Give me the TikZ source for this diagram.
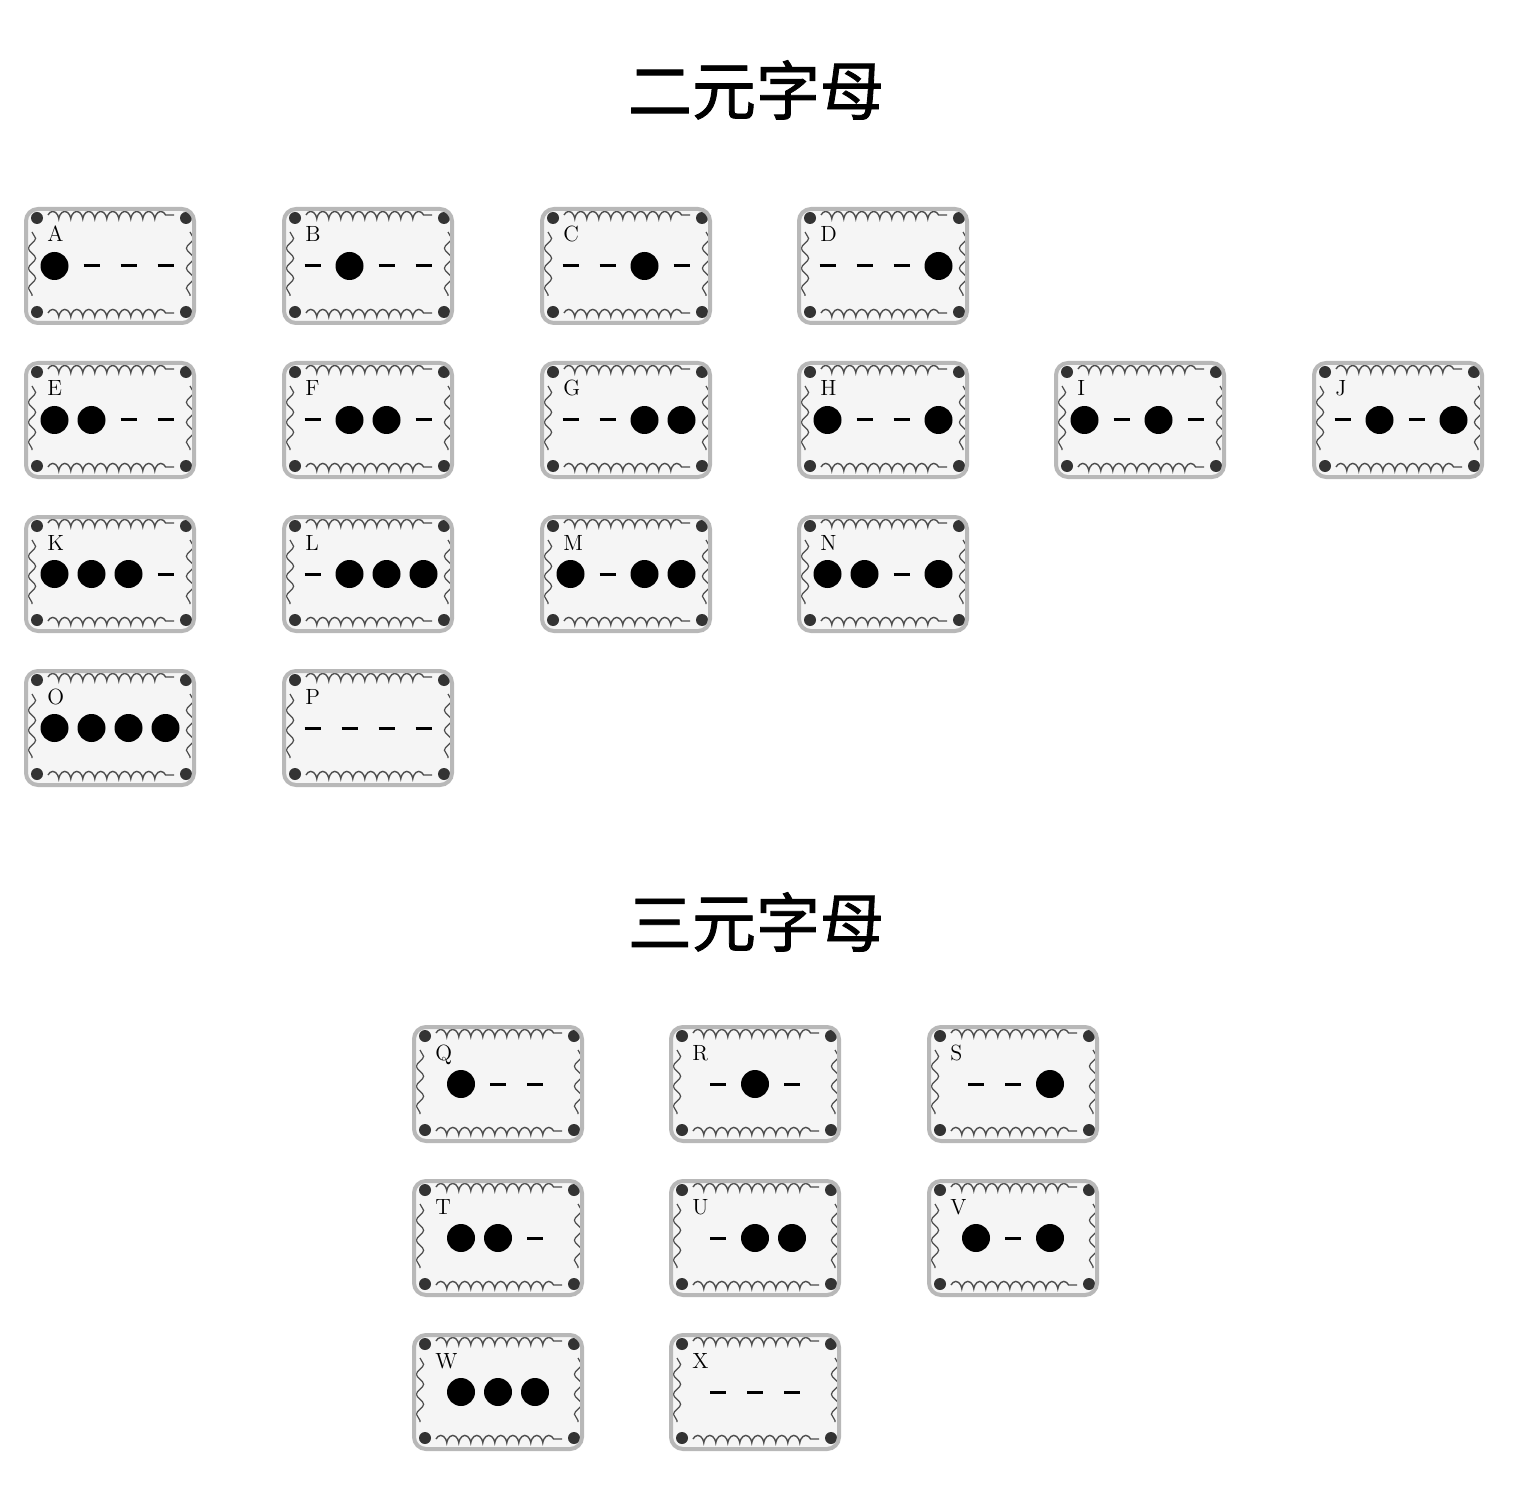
\documentclass[tikz,border=0pt]{standalone}
\usepackage{fontspec}
\newfontfamily\cjk[FakeBold=1.3]{Noto Sans CJK SC}
\usetikzlibrary{decorations.pathmorphing}
\tikzset{
  orn/.style={draw=black!70,line width=0.7pt,sharp corners,decorate,decoration={coil,aspect=0.5,segment length=6pt,amplitude=1.8pt}},
  ornside/.style={draw=black!70,line width=0.6pt,sharp corners,decorate,decoration={snake,segment length=10pt,amplitude=1.8pt}},
  card/.style={draw=black!28,line width=2pt,fill=black!4,rounded corners=6pt,
    minimum width=84pt,minimum height=57pt,
    path picture={
      \coordinate (o) at (path picture bounding box.center);
      \draw[orn]([shift={(-62,-51)}]o)--([shift={(64,-51)}]o);
      \draw[orn]([shift={(-62,47)}]o)--([shift={(64,47)}]o);
      \draw[ornside]([shift={(-78,-34)}]o)--([shift={(-78,30)}]o);
      \draw[ornside]([shift={(80,-34)}]o)--([shift={(80,30)}]o);
      \foreach \cx/\cy in {-73/-48,76/-48,-73/46,76/46}
        \fill[black!80]([shift={(\cx,\cy)}]o) circle (3pt);
    }},
  bar/.style={line width=1.5pt},
  dot/.style={fill=black},
  letter/.style={anchor=base west,inner sep=0pt,font=\fontsize{11}{13}\selectfont},
  title/.style={font=\cjk\fontsize{32}{36}\selectfont}
}
\begin{document}
\begin{tikzpicture}[x=0.5pt,y=-0.5pt]
\useasboundingbox[fill=white](0,0) rectangle (1520,1492);
\node (t2)[title] at (756,90) {二元字母};
\node (t3)[title] at (756,922) {三元字母};
%binary cards
\foreach \l/\x/\y/\p in {A/110/266/{1},B/368/266/{2},C/626/266/{3},D/883/266/{4},
  E/110/420/{1,2},F/368/420/{2,3},G/626/420/{3,4},H/883/420/{1,4},I/1140/420/{1,3},J/1398/420/{2,4},
  K/110/574/{1,2,3},L/368/574/{2,3,4},M/626/574/{1,3,4},N/883/574/{1,2,4},
  O/110/728/{1,2,3,4},P/368/728/{0}}{
  \node (c\l)[card] at (\x,\y) {};
  \node (l\l)[letter] at ([shift={(-63,-24)}]c\l.center) {\l};
  \foreach \s in {-55.5,-18.5,18.5,55.5}
    \draw[bar]([shift={(\s-8,0)}]c\l.center)--++(16,0);
  \foreach \d in \p{
    \ifnum\d>0
      \pgfmathsetmacro\dx{37*\d-92.5}
      \fill[dot]([shift={(\dx,0)}]c\l.center) circle (7pt);
    \fi}
}
%ternary cards
\foreach \l/\x/\y/\p in {Q/498/1084/{1},R/755/1084/{2},S/1013/1084/{3},
  T/498/1238/{1,2},U/755/1238/{2,3},V/1013/1238/{1,3},
  W/498/1392/{1,2,3},X/755/1392/{0}}{
  \node (c\l)[card] at (\x,\y) {};
  \node (l\l)[letter] at ([shift={(-63,-24)}]c\l.center) {\l};
  \foreach \s in {-37,0,37}
    \draw[bar]([shift={(\s-8,0)}]c\l.center)--++(16,0);
  \foreach \d in \p{
    \ifnum\d>0
      \pgfmathsetmacro\dx{37*\d-74}
      \fill[dot]([shift={(\dx,0)}]c\l.center) circle (7pt);
    \fi}
}
\end{tikzpicture}
\end{document}
